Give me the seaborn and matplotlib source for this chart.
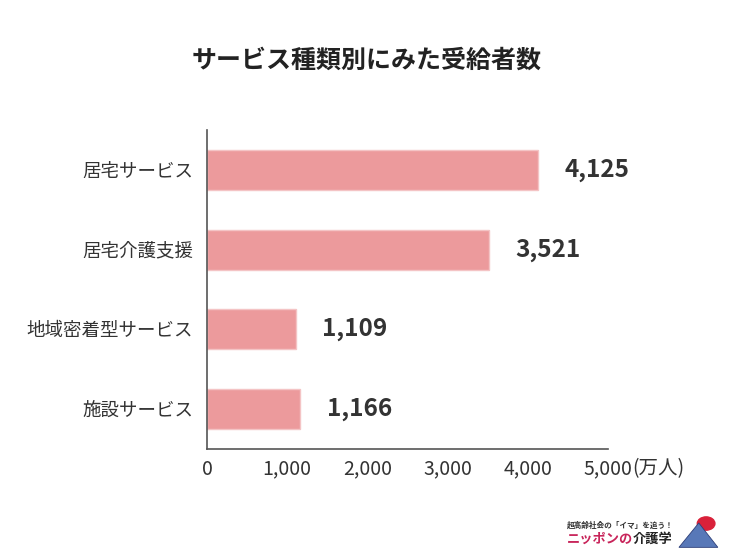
import matplotlib
matplotlib.use("Agg")
import matplotlib.pyplot as plt
import matplotlib.transforms as mtransforms
import seaborn as sns
import pandas as pd

# データ
categories = ["居宅サービス", "居宅介護支援", "地域密着型サービス", "施設サービス"]
values = [4125, 3521, 1109, 1166]
xticks = [0, 1000, 2000, 3000, 4000, 5000]
xticklabels = ["0", "1,000", "2,000", "3,000", "4,000", "5,000"]
title = "サービス種類別にみた受給者数"
unit = "(万人)"

df = pd.DataFrame({"cat": categories, "val": values})

sns.set_style("white")
plt.rcParams['font.family'] = ['Noto Sans CJK JP', 'DejaVu Sans']

fig = plt.figure(figsize=(7.34, 5.54), dpi=100)
ax = fig.add_axes([0.282, 0.1895, 0.546, 0.5758])

sns.barplot(data=df, x="val", y="cat", color="#EC9A9C", width=0.5,
            edgecolor="#F4C4C5", linewidth=1, saturation=1, ax=ax)

ax.set_xlim(0, 5000)
ax.set_ylim(3.5, -0.5)
ax.set_xticks(xticks)
ax.set_xticklabels(xticklabels, fontsize=14, color="#333333")
ax.tick_params(axis="x", length=0, pad=7)
ax.tick_params(axis="y", length=0, pad=10, labelsize=13.3, labelcolor="#333333")
ax.set_xlabel("")
ax.set_ylabel("")
for s in ["top", "right"]:
    ax.spines[s].set_visible(False)
for s in ["left", "bottom"]:
    ax.spines[s].set_color("#555555")
    ax.spines[s].set_linewidth(1.2)

# 値ラベル
offset = mtransforms.offset_copy(ax.transData, fig=fig, x=19, y=0, units="points")
for i, v in enumerate(values):
    ax.text(v, i, f"{v:,}", transform=offset, ha="left", va="center",
            fontsize=17.5, fontweight="bold", color="#333333")

# 単位
unit_tr = mtransforms.offset_copy(ax.get_xaxis_transform(), fig=fig, x=17.5, y=0, units="points")
ax.text(5000, -0.029, unit, transform=unit_tr, ha="left", va="top",
        fontsize=14, color="#333333")

fig.text(0.5, 0.89, title, ha="center", va="center", fontsize=18,
         fontweight="bold", color="#222222")

# ロゴ
fig.text(0.772, 0.052, "超高齢社会の「イマ」を追う！", fontsize=5.5,
         fontweight="bold", color="#333333", va="center")
fig.text(0.772, 0.028, "ニッポンの", fontsize=9.5, fontweight="bold",
         color="#C8245A", va="center")
fig.text(0.862, 0.028, "介護学", fontsize=9.5, fontweight="bold",
         color="#222222", va="center")
fig.patches.append(plt.Circle((0.962, 0.055), 0.012, transform=fig.transFigure,
                              color="#D9213A", zorder=3))
fig.patches.append(plt.Polygon([[0.925, 0.012], [0.952, 0.056], [0.978, 0.012]],
                               closed=True, transform=fig.transFigure,
                               facecolor="#5878B8", edgecolor="#2D3E78",
                               linewidth=0.6, zorder=4))

fig.savefig("out.png", dpi=100)
